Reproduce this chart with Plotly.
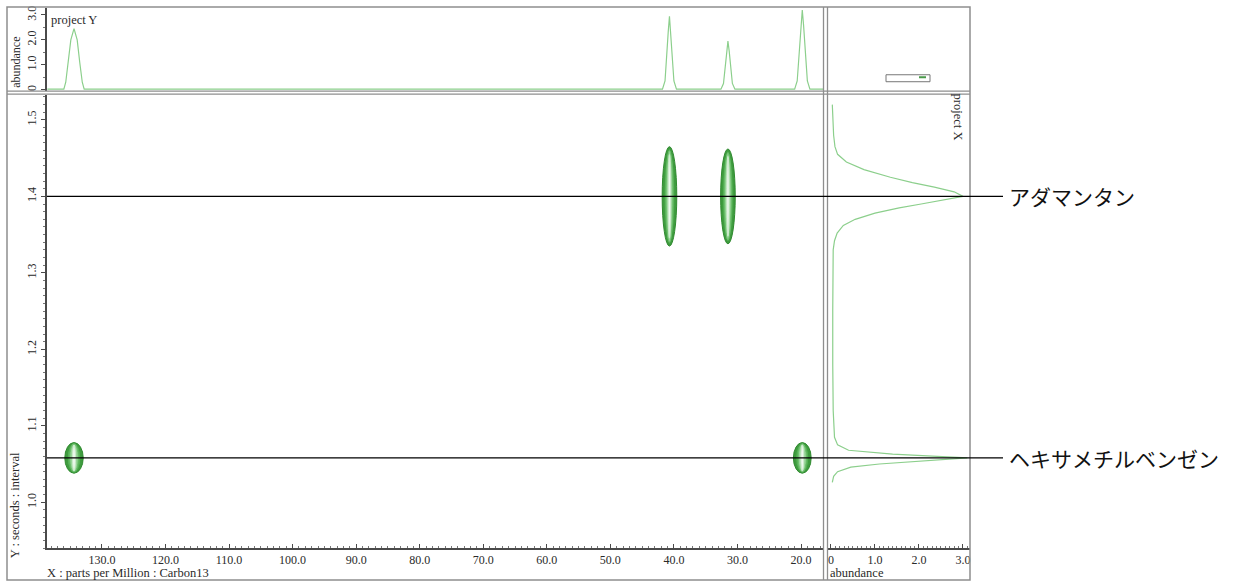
import plotly.graph_objects as go

W, H = 1237, 585

# ---- data -------------------------------------------------------------
# 1D projection along the 13C axis (top panel)
top_ppm = [138.6, 136.0, 135.7, 135.3, 134.9, 134.4, 133.9, 133.5, 133.1, 132.8,
           41.8, 41.4, 41.1, 40.9, 40.7, 40.5, 40.3, 40.0, 39.6,
           32.6, 32.2, 31.9, 31.7, 31.5, 31.3, 31.1, 30.8, 30.4,
           21.0, 20.6, 20.3, 20.0, 19.8, 19.6, 19.3, 19.0, 18.6, 16.5]
top_abund = [0.02, 0.02, 0.30, 1.10, 2.00, 2.45, 2.00, 1.10, 0.30, 0.02,
             0.02, 0.35, 1.30, 2.30, 2.95, 2.30, 1.30, 0.35, 0.02,
             0.02, 0.25, 0.90, 1.55, 1.95, 1.55, 0.90, 0.25, 0.02,
             0.02, 0.35, 1.40, 2.60, 3.20, 2.60, 1.40, 0.35, 0.02, 0.02]

# 1D projection along the time axis (right panel)
side_time = [1.520, 1.500, 1.480, 1.465, 1.455, 1.445, 1.435, 1.425, 1.418,
             1.412, 1.406, 1.400, 1.395, 1.390, 1.385, 1.378, 1.370, 1.362,
             1.352, 1.342, 1.330, 1.300, 1.250, 1.180, 1.120, 1.085, 1.075,
             1.068, 1.063, 1.058, 1.054, 1.050, 1.046, 1.040, 1.034, 1.026]
side_abund = [0.03, 0.04, 0.06, 0.09, 0.15, 0.35, 0.75, 1.35, 1.85,
              2.35, 2.80, 3.00, 2.55, 2.05, 1.55, 1.00, 0.55, 0.28,
              0.14, 0.08, 0.05, 0.04, 0.04, 0.04, 0.05, 0.08, 0.15,
              0.40, 1.40, 3.10, 2.20, 1.10, 0.45, 0.15, 0.06, 0.03]

# 2D cross peaks (13C shift, time, half widths)
peak_ppm = [134.4, 19.8, 40.7, 31.5]
peak_time = [1.058, 1.058, 1.400, 1.400]
peak_half_ppm = [1.45, 1.40, 1.15, 1.15]
peak_half_time = [0.020, 0.020, 0.065, 0.062]

# compound assignments
compound_names = ["アダマンタン", "ヘキサメチルベンゼン"]
compound_time = [1.400, 1.058]

# tick labels
x_ticks = [130, 120, 110, 100, 90, 80, 70, 60, 50, 40, 30, 20]
x_tick_text = ["130.0", "120.0", "110.0", "100.0", "90.0", "80.0",
               "70.0", "60.0", "50.0", "40.0", "30.0", "20.0"]
y_ticks = [1.0, 1.1, 1.2, 1.3, 1.4, 1.5]
y_tick_text = ["1.0", "1.1", "1.2", "1.3", "1.4", "1.5"]
ab_ticks = [0, 1, 2, 3]
ab_tick_text = ["0", "1.0", "2.0", "3.0"]

# ---- helpers ------------------------------------------------------------
def px(x):
    return x / W


def py(y):
    return 1 - y / H


SERIF = "Liberation Serif"
TXT = "#2a2a2a"
AXC = "#4a4a4a"
FRAME = "#8e8e8e"
PROJ = "#8ccf8c"

tickfont = dict(family=SERIF, size=12, color=TXT)

fig = go.Figure()

# invisible anchor trace for the 2D map axes
fig.add_trace(go.Scatter(x=peak_ppm, y=peak_time, mode="markers",
                         marker=dict(size=1, opacity=0), hoverinfo="skip",
                         xaxis="x", yaxis="y"))
fig.add_trace(go.Scatter(x=top_ppm, y=top_abund, mode="lines",
                         line=dict(color=PROJ, width=1.2),
                         xaxis="x2", yaxis="y2", hoverinfo="skip"))
fig.add_trace(go.Scatter(x=side_abund, y=side_time, mode="lines",
                         line=dict(color=PROJ, width=1.2),
                         xaxis="x3", yaxis="y3", hoverinfo="skip"))

main_x_dom = [px(47), px(823)]
main_y_dom = [py(548), py(93)]

axis_common = dict(showgrid=False, zeroline=False, showline=True,
                   linecolor=AXC, linewidth=1.5, tickwidth=1,
                   tickcolor=AXC, tickfont=tickfont)
y_ticks_style = dict(ticks="outside", ticklen=4)
x_ticks_style = dict(ticks="inside", ticklen=4)

layout = dict(
    width=W, height=H, autosize=False,
    margin=dict(l=0, r=0, t=0, b=0),
    paper_bgcolor="white", plot_bgcolor="white",
    showlegend=False,
    xaxis=dict(domain=main_x_dom, range=[138.65, 16.54], anchor="y",
               tickmode="array", tickvals=x_ticks, ticktext=x_tick_text,
               minor=dict(tickmode="linear", tick0=0, dtick=1, ticks="inside",
                          ticklen=2, tickcolor="#777"),
               **x_ticks_style, **axis_common),
    yaxis=dict(domain=main_y_dom, range=[0.940, 1.533], anchor="x",
               tickmode="array", tickvals=y_ticks, ticktext=y_tick_text,
               tickangle=-90,
               minor=dict(tickmode="linear", tick0=0, dtick=0.01, ticks="outside",
                          ticklen=2, tickcolor="#777"),
               **y_ticks_style, **axis_common),
    xaxis2=dict(domain=main_x_dom, range=[138.65, 16.54], anchor="y2",
                showticklabels=False, showgrid=False, zeroline=False,
                showline=False, ticks=""),
    yaxis2=dict(domain=[py(89), py(6)], range=[-0.04, 3.28], anchor="x2",
                tickmode="array", tickvals=ab_ticks, ticktext=ab_tick_text,
                tickangle=-90,
                minor=dict(tickmode="linear", tick0=0, dtick=0.5, ticks="outside",
                           ticklen=2, tickcolor="#777"),
                **y_ticks_style, **axis_common),
    xaxis3=dict(domain=[px(828), px(970)], range=[-0.068, 3.16], anchor="y3",
                tickmode="array", tickvals=ab_ticks, ticktext=ab_tick_text,
                minor=dict(tickmode="linear", tick0=0, dtick=0.1, ticks="inside",
                           ticklen=2, tickcolor="#777"),
                **x_ticks_style, **axis_common),
    yaxis3=dict(domain=main_y_dom, range=[0.940, 1.533], anchor="x3",
                showticklabels=False, showgrid=False, zeroline=False,
                showline=False, ticks=""),
)

shapes = []

# contour-like nested rings of each cross peak
rings = [(1.00, 1.00, "#3e9b3e", "#2f8a2f"),
         (0.74, 0.96, "#56b156", "#3f9c3f"),
         (0.46, 0.92, "#9ad69a", "#6cbf6c"),
         (0.16, 0.84, "#eef9ee", "#cdebcd")]
for cx, cy, hx, hy in zip(peak_ppm, peak_time, peak_half_ppm, peak_half_time):
    for sx, sy, fill, edge in rings:
        shapes.append(dict(type="circle", xref="x", yref="y",
                           x0=cx - hx * sx, x1=cx + hx * sx,
                           y0=cy - hy * sy, y1=cy + hy * sy,
                           fillcolor=fill, line=dict(color=edge, width=1)))

# outer frame and panel separators
shapes.append(dict(type="rect", xref="paper", yref="paper",
                   x0=px(7), x1=px(970), y0=py(580), y1=py(5),
                   line=dict(color=FRAME, width=1.5)))
for yy in (89.5, 92.5):
    shapes.append(dict(type="line", xref="paper", yref="paper",
                       x0=px(7), x1=px(970), y0=py(yy), y1=py(yy),
                       line=dict(color=FRAME, width=1.3)))
for xx in (823.5, 827.5):
    shapes.append(dict(type="line", xref="paper", yref="paper",
                       x0=px(xx), x1=px(xx), y0=py(580), y1=py(5),
                       line=dict(color=FRAME, width=1.3)))

# small overview box in the corner panel
shapes.append(dict(type="rect", xref="paper", yref="paper",
                   x0=px(886), x1=px(930), y0=py(80), y1=py(73),
                   line=dict(color="#777", width=1)))
shapes.append(dict(type="line", xref="paper", yref="paper",
                   x0=px(919), x1=px(926), y0=py(75.5), y1=py(75.5),
                   line=dict(color="#4a9a4a", width=2)))

# assignment lines
for t in compound_time:
    shapes.append(dict(type="line", xref="paper", yref="y",
                       x0=px(47), x1=px(1003), y0=t, y1=t,
                       line=dict(color="black", width=1.3)))

layout["shapes"] = shapes

ann = []
for name, t in zip(compound_names, compound_time):
    ann.append(dict(text=name, xref="paper", yref="y", x=px(1007), y=t,
                    xanchor="left", yanchor="middle", showarrow=False,
                    font=dict(family="Noto Sans CJK JP", size=21, color="#111")))

label_font = dict(family=SERIF, size=12, color=TXT)
title_font = dict(family=SERIF, size=12.5, color=TXT)
ann += [
    dict(text="project Y", xref="paper", yref="paper", x=px(49), y=py(18),
         xanchor="left", yanchor="middle", showarrow=False, font=title_font),
    dict(text="project X", xref="paper", yref="paper", x=px(958), y=py(115),
         xanchor="center", yanchor="middle", textangle=90, showarrow=False,
         font=title_font),
    dict(text="abundance", xref="paper", yref="paper", x=px(16), y=py(61),
         xanchor="center", yanchor="middle", textangle=-90, showarrow=False,
         font=label_font),
    dict(text="Y : seconds : interval", xref="paper", yref="paper", x=px(15),
         y=py(505), xanchor="center", yanchor="middle", textangle=-90,
         showarrow=False, font=title_font),
    dict(text="X : parts per Million : Carbon13", xref="paper", yref="paper",
         x=px(45), y=py(573), xanchor="left", yanchor="middle",
         showarrow=False, font=title_font),
    dict(text="abundance", xref="paper", yref="paper", x=px(828), y=py(573),
         xanchor="left", yanchor="middle", showarrow=False, font=title_font),
]
layout["annotations"] = ann

fig.update_layout(**layout)
fig.write_html("out.html")
